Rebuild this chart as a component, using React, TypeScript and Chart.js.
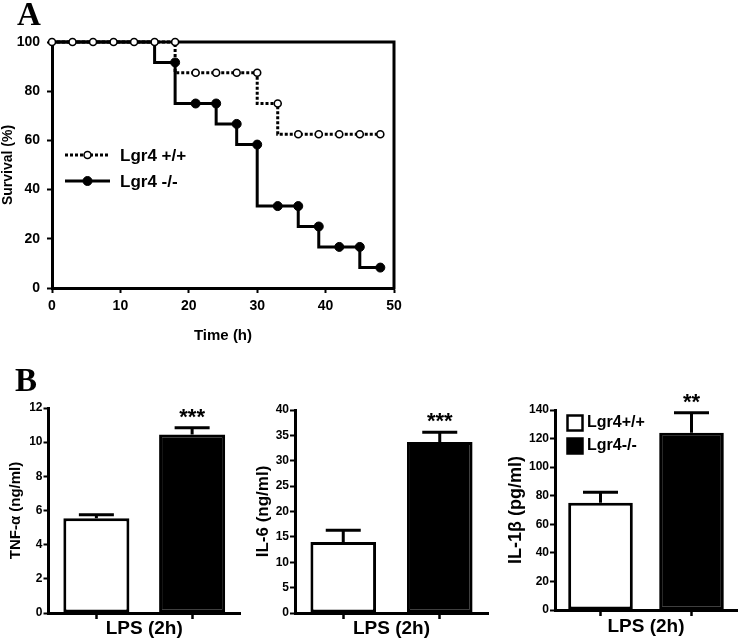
import React, { useEffect, useRef } from 'react';
import { Chart, registerables } from 'chart.js';

Chart.register(...registerables);

const FONT = "'Liberation Sans', Arial, Helvetica, sans-serif";

// ---------- Panel A: survival ----------
const timeHours = [0, 3, 6, 9, 12, 15, 18, 21, 24, 27, 30, 33, 36, 39, 42, 45, 48];
const survivalWT = [100, 100, 100, 100, 100, 100, 100, 87.5, 87.5, 87.5, 87.5, 75, 62.5, 62.5, 62.5, 62.5, 62.5];
const survivalKO = [100, 100, 100, 100, 100, 100, 91.7, 75, 75, 66.7, 58.3, 33.3, 33.3, 25, 16.7, 16.7, 8.3];
const survivalTicksY = [0, 20, 40, 60, 80, 100];
const timeTicksX = [0, 10, 20, 30, 40, 50];
const survivalLabels = ['Lgr4 +/+', 'Lgr4 -/-'];

// ---------- Panel B: cytokines ----------
const groupLabels = ['Lgr4+/+', 'Lgr4-/-'];
const tnfMean = [5.55, 10.45];
const tnfSem = [0.2, 0.4];
const tnfSig = ['', '***'];
const tnfTicks = [0, 2, 4, 6, 8, 10, 12];

const il6Mean = [14.0, 33.7];
const il6Sem = [2.3, 1.9];
const il6Sig = ['', '***'];
const il6Ticks = [0, 5, 10, 15, 20, 25, 30, 35, 40];

const il1bMean = [75, 124];
const il1bSem = [7.5, 14];
const il1bSig = ['', '**'];
const il1bTicks = [0, 20, 40, 60, 80, 100, 120, 140];

const bold = (size: number) => ({ family: FONT, size, weight: 'bold' as const });

function SurvivalPanel() {
  const ref = useRef<HTMLCanvasElement>(null);
  useEffect(() => {
    if (!ref.current) return;
    const boxPlugin = {
      id: 'boxA',
      beforeDatasetsDraw(chart: any) {
        const { ctx, chartArea: a } = chart;
        ctx.save();
        ctx.strokeStyle = '#000';
        ctx.lineWidth = 3;
        ctx.lineCap = 'square';
        ctx.beginPath();
        ctx.moveTo(a.left, a.top);
        ctx.lineTo(a.right, a.top);
        ctx.lineTo(a.right, a.bottom);
        ctx.stroke();
        ctx.restore();
      },
    };
    const legendRadius = [3.5, 4.5];
    const legendPlugin = {
      id: 'legendA',
      afterDraw(chart: any) {
        const { ctx, chartArea: a } = chart;
        chart.data.datasets.forEach((ds: any, i: number) => {
          const y = a.top + 113 + i * 26;
          const x0 = a.left + 13;
          const x1 = a.left + 58;
          ctx.save();
          ctx.strokeStyle = ds.borderColor;
          ctx.lineWidth = ds.borderWidth;
          ctx.setLineDash(ds.borderDash || []);
          ctx.beginPath();
          ctx.moveTo(x0, y);
          ctx.lineTo(x1, y);
          ctx.stroke();
          ctx.setLineDash([]);
          ctx.beginPath();
          ctx.arc((x0 + x1) / 2, y, legendRadius[i], 0, Math.PI * 2);
          ctx.fillStyle = ds.pointBackgroundColor;
          ctx.fill();
          ctx.lineWidth = ds.pointBorderWidth;
          ctx.strokeStyle = ds.pointBorderColor;
          ctx.stroke();
          ctx.fillStyle = '#000';
          ctx.font = `bold 17px ${FONT}`;
          ctx.textAlign = 'left';
          ctx.textBaseline = 'middle';
          ctx.fillText(ds.label, a.left + 68, y + 1);
          ctx.restore();
        });
      },
    };
    const chart = new Chart(ref.current, {
      type: 'line',
      data: {
        datasets: [
          {
            label: survivalLabels[0],
            data: timeHours.map((t, i) => ({ x: t, y: survivalWT[i] })),
            borderColor: '#000',
            borderWidth: 3,
            borderDash: [3, 2],
            stepped: 'after',
            pointRadius: 3.5,
            pointBackgroundColor: '#fff',
            pointBorderColor: '#000',
            pointBorderWidth: 1.6,
            fill: false,
            clip: false,
          } as any,
          {
            label: survivalLabels[1],
            data: timeHours.map((t, i) => ({ x: t, y: survivalKO[i] })),
            borderColor: '#000',
            borderWidth: 3,
            stepped: 'after',
            pointRadius: survivalKO.map((v) => (v === 100 ? 0 : 4.5)),
            pointBackgroundColor: '#000',
            pointBorderColor: '#000',
            pointBorderWidth: 1,
            fill: false,
            clip: false,
          } as any,
        ],
      },
      options: {
        animation: false,
        responsive: false,
        events: [],
        layout: { padding: { top: 42, right: 26, left: 0, bottom: 0 } },
        plugins: { legend: { display: false }, tooltip: { enabled: false } },
        scales: {
          x: {
            type: 'linear',
            min: 0,
            max: 50,
            afterBuildTicks: (s: any) => {
              s.ticks = timeTicksX.map((v) => ({ value: v }));
            },
            afterFit: (s: any) => {
              s.height = 62;
            },
            border: { display: true, color: '#000', width: 3 },
            grid: { drawOnChartArea: false, drawTicks: true, tickLength: 5, tickWidth: 2, tickColor: '#000' },
            ticks: { color: '#000', font: bold(14), padding: 5, maxRotation: 0, autoSkip: false },
            title: { display: true, text: 'Time (h)', color: '#000', font: bold(15), padding: { top: 0, bottom: 5 } },
          },
          y: {
            type: 'linear',
            min: 0,
            max: 100,
            afterBuildTicks: (s: any) => {
              s.ticks = survivalTicksY.map((v) => ({ value: v }));
            },
            afterFit: (s: any) => {
              s.width = 52;
            },
            border: { display: true, color: '#000', width: 3 },
            grid: { drawOnChartArea: false, drawTicks: true, tickLength: 5, tickWidth: 2, tickColor: '#000' },
            ticks: { color: '#000', font: bold(14), padding: 7 },
            title: { display: true, text: 'Survival (%)', color: '#000', font: bold(14), padding: { top: 0, bottom: 0 } },
          },
        },
      } as any,
      plugins: [boxPlugin, legendPlugin],
    });
    return () => chart.destroy();
  }, []);
  return (
    <canvas
      ref={ref}
      width={420}
      height={350}
      style={{ position: 'absolute', left: 0, top: 0, width: 420, height: 350 }}
    />
  );
}

type BarProps = {
  left: number;
  top: number;
  width: number;
  height: number;
  means: number[];
  sems: number[];
  sig: string[];
  yTicks: number[];
  yTitle: string;
  yTitleSize: number;
  yTitlePad: number;
  axisWidth: number;
  padTop: number;
  padRight: number;
  xAxisHeight: number;
  xTitlePad: number;
  barPct: number;
  showLegend: boolean;
};

function BarPanel(p: BarProps) {
  const ref = useRef<HTMLCanvasElement>(null);
  useEffect(() => {
    if (!ref.current) return;
    const errorPlugin = {
      id: 'errs',
      afterDatasetsDraw(chart: any) {
        const { ctx } = chart;
        const ys = chart.scales.y;
        chart.data.datasets.forEach((ds: any, di: number) => {
          const meta = chart.getDatasetMeta(di);
          ds.data.forEach((v: number | null, j: number) => {
            if (v == null) return;
            const el = meta.data[j];
            const x = el.x;
            const y0 = ys.getPixelForValue(v);
            const y1 = ys.getPixelForValue(v + p.sems[di]);
            ctx.save();
            ctx.strokeStyle = '#000';
            ctx.lineWidth = 3;
            ctx.beginPath();
            ctx.moveTo(x, y0);
            ctx.lineTo(x, y1);
            ctx.moveTo(x - 17.5, y1);
            ctx.lineTo(x + 17.5, y1);
            ctx.stroke();
            if (p.sig[di]) {
              ctx.fillStyle = '#000';
              ctx.font = `bold 22px ${FONT}`;
              ctx.textAlign = 'center';
              ctx.textBaseline = 'alphabetic';
              ctx.fillText(p.sig[di], x, y1 - 4);
            }
            ctx.restore();
          });
        });
      },
    };
    const legendPlugin = {
      id: 'legendB',
      afterDraw(chart: any) {
        if (!p.showLegend) return;
        const { ctx, chartArea: a } = chart;
        chart.data.datasets.forEach((ds: any, i: number) => {
          const bx = a.left + 12.5;
          const by = a.top + 5.5 + i * 23;
          ctx.save();
          ctx.fillStyle = ds.backgroundColor;
          ctx.fillRect(bx, by, 15, 15);
          ctx.strokeStyle = '#000';
          ctx.lineWidth = 2.5;
          ctx.strokeRect(bx, by, 15, 15);
          ctx.fillStyle = '#000';
          ctx.font = `bold 16px ${FONT}`;
          ctx.textAlign = 'left';
          ctx.textBaseline = 'middle';
          ctx.fillText(ds.label, a.left + 32, by + 7.5);
          ctx.restore();
        });
      },
    };
    const chart = new Chart(ref.current, {
      type: 'bar',
      data: {
        labels: groupLabels,
        datasets: groupLabels.map((g, i) => ({
          label: g,
          data: groupLabels.map((_, j) => (j === i ? p.means[i] : null)),
          backgroundColor: i === 0 ? '#fff' : '#000',
          borderColor: '#000',
          borderWidth: 3,
          borderSkipped: false,
          barPercentage: p.barPct,
          categoryPercentage: 1,
          skipNull: true,
        })) as any,
      },
      options: {
        animation: false,
        responsive: false,
        events: [],
        layout: { padding: { top: p.padTop, right: p.padRight, left: 0, bottom: 0 } },
        plugins: { legend: { display: false }, tooltip: { enabled: false } },
        scales: {
          x: {
            type: 'category',
            afterFit: (s: any) => {
              s.height = p.xAxisHeight;
            },
            border: { display: true, color: '#000', width: 3 },
            grid: { offset: false, drawOnChartArea: false, drawTicks: true, tickLength: 6, tickWidth: 2.5, tickColor: '#000' },
            ticks: { display: false },
            title: { display: true, text: 'LPS (2h)', color: '#000', font: bold(19), padding: { top: 0, bottom: p.xTitlePad } },
          },
          y: {
            type: 'linear',
            min: p.yTicks[0],
            max: p.yTicks[p.yTicks.length - 1],
            afterBuildTicks: (s: any) => {
              s.ticks = p.yTicks.map((v) => ({ value: v }));
            },
            afterFit: (s: any) => {
              s.width = p.axisWidth;
            },
            border: { display: true, color: '#000', width: 3 },
            grid: { drawOnChartArea: false, drawTicks: true, tickLength: 5, tickWidth: 2, tickColor: '#000' },
            ticks: { color: '#000', font: bold(12), padding: 1 },
            title: {
              display: true,
              text: p.yTitle,
              color: '#000',
              font: bold(p.yTitleSize),
              padding: { top: p.yTitlePad, bottom: 0 },
            },
          },
        },
      } as any,
      plugins: [errorPlugin, legendPlugin],
    });
    return () => chart.destroy();
  }, []);
  return (
    <canvas
      ref={ref}
      width={p.width}
      height={p.height}
      style={{ position: 'absolute', left: p.left, top: p.top, width: p.width, height: p.height }}
    />
  );
}

const panelLetter: React.CSSProperties = {
  position: 'absolute',
  font: "bold 33px 'Liberation Serif', 'Times New Roman', serif",
  lineHeight: 1,
  color: '#000',
};

export default function App() {
  return (
    <div
      style={{
        position: 'absolute',
        left: 0,
        top: 0,
        width: 745,
        height: 641,
        background: '#fff',
        overflow: 'hidden',
      }}
    >
      <SurvivalPanel />
      <BarPanel
        left={0}
        top={380}
        width={250}
        height={261}
        means={tnfMean}
        sems={tnfSem}
        sig={tnfSig}
        yTicks={tnfTicks}
        yTitle="TNF-α (ng/ml)"
        yTitleSize={15}
        yTitlePad={7}
        axisWidth={48.5}
        padTop={28}
        padRight={10}
        xAxisHeight={28}
        xTitlePad={0.5}
        barPct={0.69}
        showLegend={false}
      />
      <BarPanel
        left={250}
        top={380}
        width={250}
        height={261}
        means={il6Mean}
        sems={il6Sem}
        sig={il6Sig}
        yTicks={il6Ticks}
        yTitle="IL-6 (ng/ml)"
        yTitleSize={17}
        yTitlePad={3}
        axisWidth={45}
        padTop={30}
        padRight={12}
        xAxisHeight={28}
        xTitlePad={0.5}
        barPct={0.68}
        showLegend={false}
      />
      <BarPanel
        left={490}
        top={380}
        width={255}
        height={261}
        means={il1bMean}
        sems={il1bSem}
        sig={il1bSig}
        yTicks={il1bTicks}
        yTitle="IL-1β (pg/ml)"
        yTitleSize={18}
        yTitlePad={15}
        axisWidth={65}
        padTop={30}
        padRight={8}
        xAxisHeight={31}
        xTitlePad={3}
        barPct={0.71}
        showLegend={true}
      />
      <div style={{ ...panelLetter, left: 17, top: -2 }}>A</div>
      <div style={{ ...panelLetter, left: 15, top: 364 }}>B</div>
    </div>
  );
}
